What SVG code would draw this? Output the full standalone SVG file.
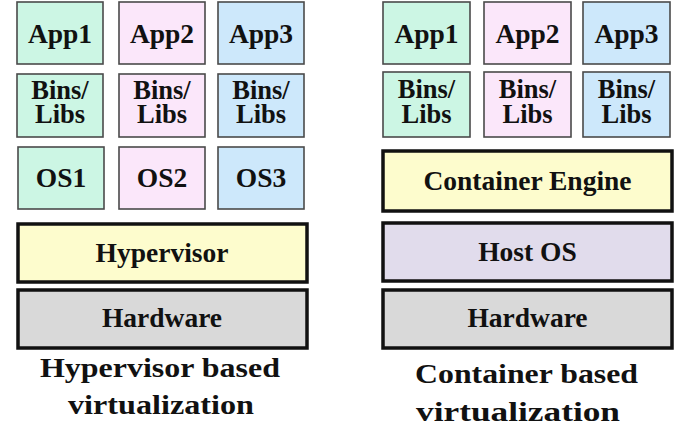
<svg xmlns="http://www.w3.org/2000/svg" width="683" height="431" viewBox="0 0 683 431" font-family="'Liberation Serif', Tinos, 'Times New Roman', Times, serif">
  <style>
    .bg { fill: #ffffff; }
    .cell { stroke: #4a4a4a; stroke-width: 1.6; }
    .layer { stroke: #111111; stroke-width: 3.5; }
    .green { fill: #ccf6e4; }
    .pink { fill: #fbe7fa; }
    .blue { fill: #cde8fb; }
    .yellow { fill: #fdfccd; }
    .lavender { fill: #e1dcec; }
    .grey { fill: #d9d9d9; }
    text { font-family: "Liberation Serif", Tinos, "Times New Roman", Times, serif; font-weight: 700; fill: #111111; text-anchor: middle; }
    .lbl { font-size: 27.5px; }
    .stk { font-size: 26.5px; }
    .cap { font-size: 28px; }
  </style>
  <rect class="bg" x="0" y="0" width="683" height="431"/>

  <!-- Hypervisor stack -->
  <g id="hv-app1"><rect class="cell green" x="17" y="2" width="86" height="62"/><text class="lbl" x="60" y="43">App1</text></g>
  <g id="hv-app2"><rect class="cell pink" x="119" y="2" width="86" height="62"/><text class="lbl" x="162" y="43">App2</text></g>
  <g id="hv-app3"><rect class="cell blue" x="218" y="2" width="86" height="62"/><text class="lbl" x="261" y="43">App3</text></g>

  <g id="hv-bins1"><rect class="cell green" x="17" y="74" width="86" height="63"/><text class="stk" x="60" y="99">Bins/</text><text class="stk" x="60" y="123">Libs</text></g>
  <g id="hv-bins2"><rect class="cell pink" x="119" y="74" width="86" height="63"/><text class="stk" x="162" y="99">Bins/</text><text class="stk" x="162" y="123">Libs</text></g>
  <g id="hv-bins3"><rect class="cell blue" x="218" y="74" width="86" height="63"/><text class="stk" x="261" y="99">Bins/</text><text class="stk" x="261" y="123">Libs</text></g>

  <g id="hv-os1"><rect class="cell green" x="18" y="147" width="86" height="62"/><text class="lbl" x="61" y="187">OS1</text></g>
  <g id="hv-os2"><rect class="cell pink" x="119" y="147" width="86" height="62"/><text class="lbl" x="162" y="187">OS2</text></g>
  <g id="hv-os3"><rect class="cell blue" x="218" y="147" width="86" height="62"/><text class="lbl" x="261" y="187">OS3</text></g>

  <g id="hv-hypervisor"><rect class="layer yellow" x="18" y="224" width="289" height="58"/><text class="lbl" x="162" y="262">Hypervisor</text></g>
  <g id="hv-hardware"><rect class="layer grey" x="18" y="290" width="289" height="58"/><text class="lbl" x="162" y="327">Hardware</text></g>

  <g id="hv-caption">
    <text class="cap" x="160" y="377" textLength="240" lengthAdjust="spacingAndGlyphs">Hypervisor based</text>
    <text class="cap" x="161" y="414" textLength="186" lengthAdjust="spacingAndGlyphs">virtualization</text>
  </g>

  <!-- Container stack -->
  <g id="ct-app1"><rect class="cell green" x="383" y="2" width="87" height="62"/><text class="lbl" x="426.5" y="43">App1</text></g>
  <g id="ct-app2"><rect class="cell pink" x="484" y="2" width="87" height="62"/><text class="lbl" x="527.5" y="43">App2</text></g>
  <g id="ct-app3"><rect class="cell blue" x="583" y="2" width="87" height="62"/><text class="lbl" x="626.5" y="43">App3</text></g>

  <g id="ct-bins1"><rect class="cell green" x="383" y="72" width="87" height="65"/><text class="stk" x="426.5" y="98">Bins/</text><text class="stk" x="426.5" y="123">Libs</text></g>
  <g id="ct-bins2"><rect class="cell pink" x="484" y="72" width="87" height="65"/><text class="stk" x="527.5" y="98">Bins/</text><text class="stk" x="527.5" y="123">Libs</text></g>
  <g id="ct-bins3"><rect class="cell blue" x="583" y="72" width="87" height="65"/><text class="stk" x="626.5" y="98">Bins/</text><text class="stk" x="626.5" y="123">Libs</text></g>

  <g id="ct-engine"><rect class="layer yellow" x="383" y="151" width="289" height="60"/><text class="lbl" x="527.5" y="190">Container Engine</text></g>
  <g id="ct-hostos"><rect class="layer lavender" x="383" y="223" width="289" height="58"/><text class="lbl" x="527.5" y="261">Host OS</text></g>
  <g id="ct-hardware"><rect class="layer grey" x="383" y="290" width="289" height="58"/><text class="lbl" x="527.5" y="327">Hardware</text></g>

  <g id="ct-caption">
    <text class="cap" x="526.5" y="383" textLength="223" lengthAdjust="spacingAndGlyphs">Container based</text>
    <text class="cap" x="518" y="421" textLength="204" lengthAdjust="spacingAndGlyphs">virtualization</text>
  </g>

  <!-- no connectors in this layered diagram -->
  <g id="connectors"/>
</svg>
